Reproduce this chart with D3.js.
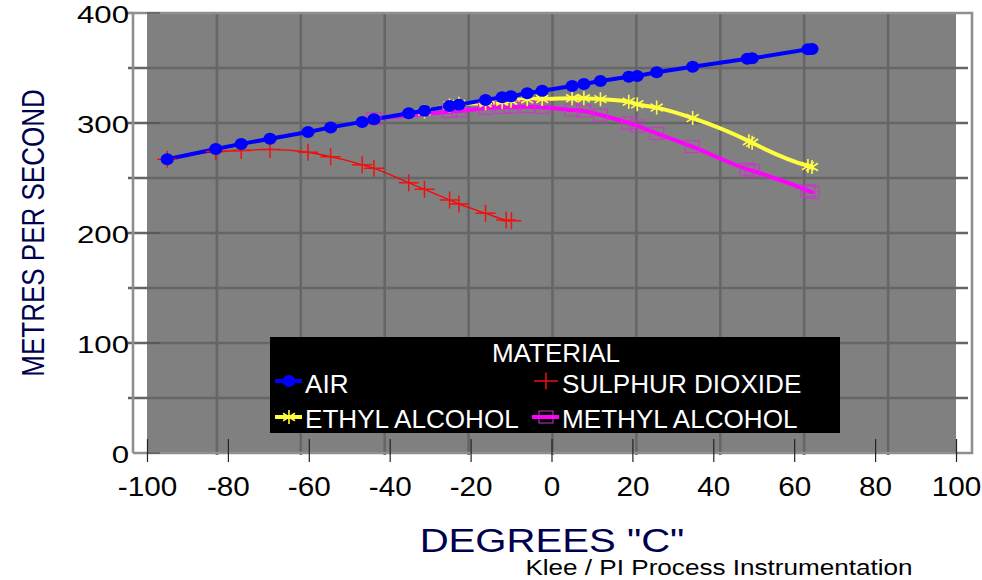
<!DOCTYPE html>
<html><head><meta charset="utf-8">
<script src="https://cdn.jsdelivr.net/npm/d3@7"></script>
<style>
body{margin:0;background:#fff}
svg{display:block}
text{font-family:"Liberation Sans",Arial,Helvetica,sans-serif}
</style>
</head><body>
<svg id="c" width="982" height="580"></svg>
<script>
// ---- data (temperature °C, speed m/s) ----
const xTicks = [-100,-80,-60,-40,-20,0,20,40,60,80,100];
const yTicks = [0,100,200,300,400];
const gridXVals = [-80,-60,-40,-20,0,20,40,60,80];
const gridYVals = [50,100,150,200,250,300,350];
const seriesNames = ["AIR","SULPHUR DIOXIDE","ETHYL ALCOHOL","METHYL ALCOHOL"];

const airT = [-95,-83,-76.7,-69.6,-60.2,-54.6,-46.8,-43.9,-35.3,-31.4,-25.2,-22.9,-16.3,-12.2,-10,-6,-2.3,5.1,8,12.1,19.1,21.2,26,34.9,48.4,49.6,63.4,64.4];
const airV = [267,276.4,281,285.7,291.8,296,301,303.4,308.8,311.2,315.5,316.6,321,323.4,324.3,327,329.4,333.6,335.5,338.2,342.1,342.7,346.1,351.2,358.5,358.8,367,367.3];

const so2T = [-95,-83,-76.7,-69.6,-60.2,-54.6,-46.8,-43.9,-35.3,-31.4,-25.2,-22.9,-16.3,-11.2,-9.9];
const so2V = [267,274,275,276,273.4,269.4,262,258.8,245.7,239.7,230,226.4,218,211.8,211.2];

const ethT = [-31.4,-25.2,-22.9,-16.3,-12.2,-10,-6,-2.3,5.1,8,12.1,19.1,21.2,26,34.9,48.8,49.6,63.4,64.4];
const ethV = [310.5,316,317.5,318,319.4,320.3,321.5,321.8,322.5,322.5,321.7,319.4,317,314,304.5,283.5,282,261,260];

const metT = [-43.9,-25.2,-22.9,-16.3,-12.2,-10,-6,-2.3,5.1,8,12.1,19.1,21.2,26,34.8,48.4,49.6,63.4,64.4];
const metV = [304,310.3,311,313.4,314.3,314.5,314.8,314.3,311.8,310.9,307.3,300,297.3,290.6,278.5,258,256.6,238.5,237];

// ---- layout ----
const svg = d3.select("#c");
const F = {l:133, r:972, t:13, b:453};      // frame
const P = {l:147, r:956};                   // plotting strip
const x = d3.scaleLinear().domain([-100,100]).range([P.l,P.r]);
const y = d3.scaleLinear().domain([0,400]).range([F.b,F.t]);
const gx = d3.scaleLinear().domain([-100,100]).range([F.l,F.r]);

svg.append("rect").attr("width",982).attr("height",580).attr("fill","#fff");
svg.append("rect").attr("x",P.l).attr("y",F.t).attr("width",P.r-P.l).attr("height",F.b-F.t).attr("fill","#808080");

// grid
svg.append("g").selectAll("line").data(gridXVals).join("line")
  .attr("x1",d=>gx(d)).attr("x2",d=>gx(d)).attr("y1",F.t).attr("y2",F.b+2)
  .attr("stroke","#666").attr("stroke-width",2.6);
svg.append("g").selectAll("line").data(gridYVals).join("line")
  .attr("x1",F.l-5).attr("x2",F.r-4).attr("y1",d=>y(d)).attr("y2",d=>y(d))
  .attr("stroke","#666").attr("stroke-width",2.6);

// frame
const fr = svg.append("g").attr("stroke","#8f8f8f").attr("stroke-width",2.6).attr("fill","none");
fr.append("path").attr("d",`M${F.l},${F.b}V${F.t}H${F.r}V${F.b}H${F.l}`);
fr.append("line").attr("x1",F.l-8).attr("x2",F.l).attr("y1",F.t).attr("y2",F.t);

// y inner tick marks
svg.append("g").selectAll("line").data(yTicks).join("line")
  .attr("x1",P.l).attr("x2",P.l+13).attr("y1",d=>y(d)).attr("y2",d=>y(d))
  .attr("stroke","#505050").attr("stroke-width",1.2);

// x axis
const xa = svg.append("g").attr("transform",`translate(0,${F.b})`)
  .call(d3.axisBottom(x).tickValues(xTicks).tickFormat(d=>String(d)).tickSize(0));
xa.select(".domain").remove();
xa.selectAll(".tick line").attr("y1",-14).attr("y2",9).attr("stroke","#222").attr("stroke-width",1.2);
xa.selectAll(".tick text").attr("y",0).attr("dy",0)
  .attr("transform","translate(0,43) scale(1.1,1)")
  .attr("font-size",27).attr("fill","#000").attr("font-family",'"Liberation Sans",Arial,sans-serif');

// y axis labels
const ya = svg.append("g").attr("transform",`translate(${F.l},0)`)
  .call(d3.axisLeft(y).tickValues(yTicks).tickFormat(d=>String(d)).tickSize(0));
ya.select(".domain").remove();
ya.selectAll(".tick text").attr("x",0).attr("dy",0)
  .attr("transform","translate(-4,9) scale(1.3,1)")
  .attr("font-size",24).attr("fill","#000").attr("font-family",'"Liberation Sans",Arial,sans-serif');

// series
function pts(T,V){ return T.map((t,i)=>[t,V[i]]); }
const air = pts(airT,airV), so2 = pts(so2T,so2V), eth = pts(ethT,ethV), met = pts(metT,metV);
const straight = d3.line().x(d=>x(d[0])).y(d=>y(d[1]));
const smooth = d3.line().x(d=>x(d[0])).y(d=>y(d[1])).curve(d3.curveMonotoneX);

const gL = svg.append("g").attr("fill","none").attr("stroke-linejoin","round").attr("stroke-linecap","round");
gL.append("path").attr("d",smooth(met)).attr("stroke","#ff00ff").attr("stroke-width",4);
gL.append("path").attr("d",smooth(eth)).attr("stroke","#ffff40").attr("stroke-width",4);
gL.append("path").attr("d",smooth(so2)).attr("stroke","#ff0000").attr("stroke-width",1.3);

const plusP = "M-10,0H10M0,-8.5V8.5";
const starP = "M0,-7V7M-6,-3.8L6,3.8M-6,3.8L6,-3.8";

svg.append("g").selectAll("rect").data(met).join("rect")
  .attr("x",d=>x(d[0])-7).attr("y",d=>y(d[1])-6).attr("width",14).attr("height",12)
  .attr("fill","none").attr("stroke","#d030d0").attr("stroke-width",1);
svg.append("g").selectAll("path").data(eth).join("path")
  .attr("d",starP).attr("transform",d=>`translate(${x(d[0])},${y(d[1])})`)
  .attr("stroke","#ffff40").attr("stroke-width",1.6).attr("fill","none");
svg.append("g").selectAll("path").data(so2).join("path")
  .attr("d",plusP).attr("transform",d=>`translate(${x(d[0])},${y(d[1])})`)
  .attr("stroke","#f01010").attr("stroke-width",1.5).attr("fill","none");

gL.append("path").attr("d",straight(air)).attr("stroke","#0000ff").attr("stroke-width",4);
svg.append("g").selectAll("ellipse").data(air).join("ellipse")
  .attr("cx",d=>x(d[0])).attr("cy",d=>y(d[1])).attr("rx",6.6).attr("ry",6)
  .attr("fill","#0000ff");

// legend
const lg = svg.append("g");
lg.append("rect").attr("x",270).attr("y",337).attr("width",570).attr("height",96).attr("fill","#000");
lg.append("g").attr("transform","translate(556,362) scale(1.04,1)")
  .append("text").attr("text-anchor","middle")
  .attr("font-size",25).attr("fill","#fff").text("MATERIAL");
const legPos = [[275,381,305,393],[532,381,562,393],[275,417,305,428],[532,417,562,428]];
seriesNames.forEach((n,i)=>{
  const [mx,my,tx,ty] = legPos[i];
  lg.append("g").attr("transform",`translate(${tx},${ty}) scale(1.045,1)`)
    .append("text").attr("font-size",25).attr("fill","#fff").text(n);
  const cx = mx+14;
  if(i===0){
    lg.append("line").attr("x1",mx).attr("x2",mx+27).attr("y1",my).attr("y2",my).attr("stroke","#0000ff").attr("stroke-width",4);
    lg.append("ellipse").attr("cx",cx).attr("cy",my).attr("rx",6.6).attr("ry",6).attr("fill","#0000ff");
  } else if(i===1){
    lg.append("path").attr("d","M-12,0H12M0,-8.5V8.5").attr("transform",`translate(${cx},${my})`).attr("stroke","#f01010").attr("stroke-width",1.5);
  } else if(i===2){
    lg.append("line").attr("x1",mx).attr("x2",mx+27).attr("y1",my).attr("y2",my).attr("stroke","#ffff40").attr("stroke-width",4);
    lg.append("path").attr("d",starP).attr("transform",`translate(${cx},${my})`).attr("stroke","#ffff40").attr("stroke-width",1.6);
  } else {
    lg.append("line").attr("x1",mx).attr("x2",mx+27).attr("y1",my).attr("y2",my).attr("stroke","#ff00ff").attr("stroke-width",4);
    lg.append("rect").attr("x",cx-7).attr("y",my-6).attr("width",14).attr("height",12).attr("fill","none").attr("stroke","#d030d0").attr("stroke-width",1);
  }
});

// titles
svg.append("g").attr("transform","translate(44,233) scale(1.2,1) rotate(-90)")
  .append("text").attr("text-anchor","middle").attr("font-size",26).attr("fill","#000050")
  .text("METRES PER SECOND");
svg.append("g").attr("transform","translate(552,552) scale(1.18,1)")
  .append("text").attr("text-anchor","middle").attr("font-size",34).attr("fill","#000050")
  .text('DEGREES "C"');
svg.append("g").attr("transform","translate(719,575) scale(1.16,1)")
  .append("text").attr("text-anchor","middle").attr("font-size",22.5).attr("fill","#000")
  .text("Klee / PI Process Instrumentation");
</script>
</body></html>
